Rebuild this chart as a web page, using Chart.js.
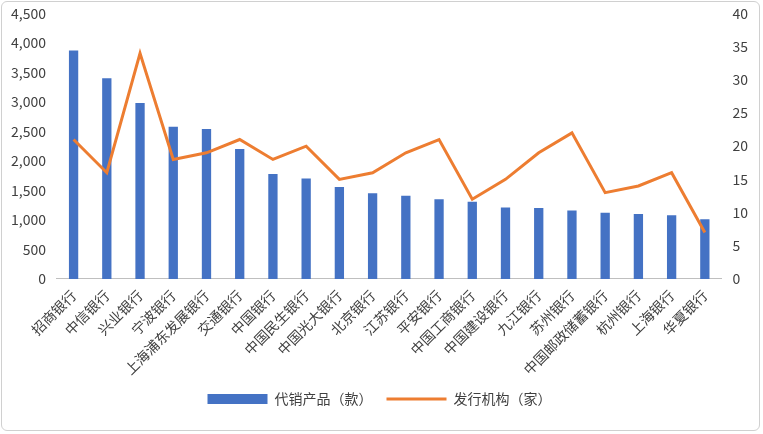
<!DOCTYPE html>
<html><head><meta charset="utf-8">
<script src="https://cdn.jsdelivr.net/npm/chart.js@4/dist/chart.umd.min.js"></script>
<style>
body{margin:0;background:#fff;}
#wrap{position:absolute;left:1px;top:1px;width:759px;height:430px;border:1px solid #d0d0d0;border-radius:6px;box-sizing:border-box;overflow:hidden;}
</style></head><body>
<div id="wrap"><canvas id="c" width="757" height="428"></canvas></div>
<script>
var banks = ['招商银行','中信银行','兴业银行','宁波银行','上海浦东发展银行','交通银行','中国银行','中国民生银行','中国光大银行','北京银行','江苏银行','平安银行','中国工商银行','中国建设银行','九江银行','苏州银行','中国邮政储蓄银行','杭州银行','上海银行','华夏银行'];
var products = [3870,3400,2980,2580,2540,2200,1780,1700,1560,1450,1410,1350,1310,1210,1200,1160,1120,1100,1080,1010];
var issuers = [21,16,34,18,19,21,18,20,15,16,19,21,12,15,19,22,13,14,16,7];

Chart.defaults.font.family = '"Noto Sans CJK SC", "Liberation Sans", sans-serif';
new Chart(document.getElementById('c'), {
  data: {
    labels: banks,
    datasets: [
      {type:'line', label:'发行机构（家）', data:issuers, yAxisID:'y2', borderColor:'#ED7D31', backgroundColor:'#ED7D31', borderWidth:3, pointRadius:0, tension:0, pointStyle:'line'},
      {type:'bar', label:'代销产品（款）', data:products, yAxisID:'y', backgroundColor:'#4472C4', barPercentage:0.28, categoryPercentage:1, pointStyle:'rect'}
    ]
  },
  options: {
    responsive:false, animation:false,
    layout:{padding:{left:6,right:8,top:10,bottom:14}},
    plugins:{legend:{position:'bottom', reverse:true, labels:{usePointStyle:true, pointStyleWidth:60, boxHeight:10, font:{size:14}, color:'#404040', padding:14}}},
    scales:{
      x:{grid:{display:false}, border:{color:'#bfbfbf'}, ticks:{maxRotation:45, minRotation:45, autoSkip:false, font:{size:14}, color:'#404040', padding:0}},
      y:{min:0,max:4500, ticks:{stepSize:500, font:{size:14}, color:'#404040'}, grid:{display:false}, border:{display:false}},
      y2:{position:'right', min:0,max:40, ticks:{stepSize:5, font:{size:14}, color:'#404040'}, grid:{display:false}, border:{display:false}}
    }
  }
});
</script>
</body></html>
